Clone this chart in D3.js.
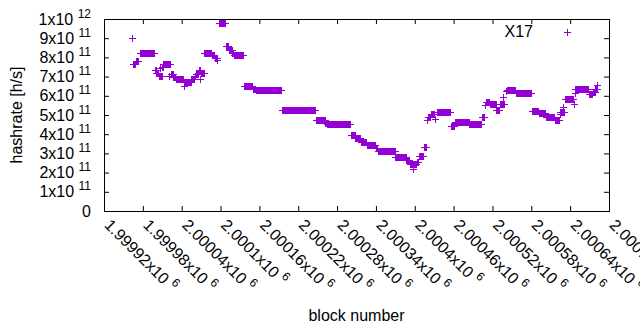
<!DOCTYPE html>
<html>
<head>
<meta charset="utf-8">
<script src="https://cdn.jsdelivr.net/npm/d3@7"></script>
<style>
  body { margin: 0; background: #fff; }
  text { font-family: "Liberation Sans", Arial, sans-serif; fill: #000; }
</style>
</head>
<body>
<div id="chart"></div>
<script>
// hashrate estimates, read off the plot as runs of blocks sharing one value
// (value in units of 1e11 h/s)
var runStart = [1999964, 1999965, 1999969, 1999975, 1999998, 2000001, 2000005, 2000006, 2000009, 2000011,
                2000021, 2000023, 2000027, 2000031, 2000043, 2000044, 2000055, 2000061, 2000062, 2000066,
                2000068, 2000070, 2000075, 2000087, 2000091, 2000095, 2000097, 2000108, 2000113, 2000118,
                2000121, 2000136, 2000150, 2000154, 2000195, 2000247, 2000262, 2000265, 2000301, 2000308,
                2000317, 2000326, 2000340, 2000343, 2000370, 2000387, 2000392, 2000397, 2000403, 2000406,
                2000414, 2000419, 2000420, 2000425, 2000431, 2000434, 2000456, 2000462, 2000484, 2000504,
                2000508, 2000510, 2000516, 2000526, 2000527, 2000531, 2000537, 2000541, 2000542, 2000556,
                2000581, 2000592, 2000602, 2000616, 2000624, 2000625, 2000629, 2000632, 2000646, 2000647,
                2000648, 2000669, 2000675, 2000679, 2000682];
var runEnd   = [1999964, 1999968, 1999972, 1999997, 2000000, 2000004, 2000009, 2000006, 2000011, 2000022,
                2000021, 2000026, 2000030, 2000042, 2000043, 2000054, 2000059, 2000061, 2000065, 2000069,
                2000068, 2000074, 2000086, 2000090, 2000094, 2000095, 2000107, 2000112, 2000117, 2000120,
                2000135, 2000149, 2000153, 2000194, 2000246, 2000261, 2000264, 2000300, 2000307, 2000316,
                2000325, 2000339, 2000342, 2000369, 2000386, 2000391, 2000402, 2000397, 2000405, 2000413,
                2000418, 2000419, 2000424, 2000430, 2000431, 2000455, 2000461, 2000483, 2000503, 2000507,
                2000508, 2000515, 2000525, 2000526, 2000530, 2000538, 2000537, 2000541, 2000555, 2000580,
                2000591, 2000601, 2000615, 2000623, 2000624, 2000630, 2000629, 2000645, 2000646, 2000668,
                2000648, 2000674, 2000678, 2000681, 2000682];
var hashrate = [9.0, 7.65, 7.82, 8.21, 7.35, 7.18, 7.05, 7.43, 7.5, 7.64,
                7.03, 7.12, 6.97, 6.86, 6.52, 6.72, 6.9, 7.05, 7.15, 7.35,
                6.88, 7.2, 8.25, 8.12, 7.98, 7.88, 9.8, 8.58, 8.38, 8.22,
                8.1, 6.49, 6.38, 6.29, 5.24, 4.72, 4.6, 4.51, 3.98, 3.79,
                3.58, 3.44, 3.3, 3.12, 2.81, 2.65, 2.46, 2.2, 2.55, 2.89,
                3.33, 4.76, 4.9, 5.05, 4.8, 5.14, 4.45, 4.62, 4.51, 4.91,
                5.52, 5.68, 5.57, 5.24, 5.25, 5.55, 5.95, 6.27, 6.29, 6.14,
                5.2, 5.13, 4.87, 4.73, 5.05, 5.15, 5.42, 5.81, 5.57, 6.38,
                6.13, 6.08, 6.22, 6.38, 6.55];

var xTickValues = [1999920, 1999980, 2000040, 2000100, 2000160, 2000220, 2000280,
                   2000340, 2000400, 2000460, 2000520, 2000580, 2000640, 2000700];
var yTickValues = [0, 1e11, 2e11, 3e11, 4e11, 5e11, 6e11, 7e11, 8e11, 9e11, 1e12];
var seriesName = "X17";

var width = 640, height = 330;
var plot = {left: 104, right: 609, top: 19, bottom: 211};
var color = "#9400d3";

var svg = d3.select("#chart")
  .append("svg")
    .attr("width", width)
    .attr("height", height);

var x = d3.scaleLinear()
    .domain([xTickValues[0], xTickValues[xTickValues.length - 1]])
    .range([plot.left, plot.right]);
var y = d3.scaleLinear()
    .domain([yTickValues[0], yTickValues[yTickValues.length - 1]])
    .range([plot.bottom, plot.top]);

// one point per block inside each run
var points = [];
runStart.forEach(function(s, i) {
  d3.range(s, runEnd[i] + 1).forEach(function(b) {
    points.push({block: b, rate: hashrate[i] * 1e11});
  });
});

// inward ticks on all four sides (gnuplot mirror style)
function noDomain(g) { g.select(".domain").remove(); g.selectAll("text").remove(); }
svg.append("g").attr("transform", "translate(0," + plot.bottom + ")")
  .call(d3.axisBottom(x).tickValues(xTickValues).tickSize(-5)).call(noDomain);
svg.append("g").attr("transform", "translate(0," + plot.top + ")")
  .call(d3.axisTop(x).tickValues(xTickValues).tickSize(-5)).call(noDomain);
svg.append("g").attr("transform", "translate(" + plot.left + ",0)")
  .call(d3.axisLeft(y).tickValues(yTickValues).tickSize(-5)).call(noDomain);
svg.append("g").attr("transform", "translate(" + plot.right + ",0)")
  .call(d3.axisRight(y).tickValues(yTickValues).tickSize(-5)).call(noDomain);
svg.selectAll(".tick line").attr("stroke", "#000");

// border
svg.append("rect")
    .attr("x", plot.left + 0.5)
    .attr("y", plot.top + 0.5)
    .attr("width", plot.right - plot.left)
    .attr("height", plot.bottom - plot.top)
    .attr("fill", "none")
    .attr("stroke", "#000");

// y tick labels, "9x10 11" style
var yLab = svg.append("g").attr("font-size", 16);
yTickValues.forEach(function(d) {
  var t = yLab.append("text")
      .attr("x", 91)
      .attr("y", y(d) + 5.5)
      .attr("text-anchor", "end");
  if (d === 0) { t.text("0"); return; }
  var e = Math.floor(Math.log10(d) + 1e-9);
  t.append("tspan").text(Math.round(d / Math.pow(10, e)) + "x10");
  t.append("tspan").attr("dx", 4.4).attr("dy", -7).attr("font-size", 12).text(e);
});

// x tick labels, rotated
var fmt = d3.format(".5~f");
var xLab = svg.append("g").attr("font-size", 16);
xTickValues.forEach(function(d) {
  var t = xLab.append("text")
      .attr("transform", "translate(" + (x(d) - 0.5) + ",226) rotate(45)");
  t.append("tspan").text(fmt(d / 1e6) + "x10");
  t.append("tspan").attr("dx", 4.4).attr("dy", -7).attr("font-size", 12).text("6");
});

// axis titles
svg.append("text")
    .attr("transform", "translate(22," + (plot.top + plot.bottom) / 2 + ") rotate(-90)")
    .attr("text-anchor", "middle")
    .attr("font-size", 16)
    .text("hashrate [h/s]");
svg.append("text")
    .attr("x", (plot.left + plot.right) / 2)
    .attr("y", 321)
    .attr("text-anchor", "middle")
    .attr("font-size", 16)
    .text("block number");

// the points
var plus = "M-3.5,0H3.5M0,-3.5V3.5";
svg.append("g")
    .attr("fill", "none")
    .attr("stroke", color)
    .attr("stroke-width", 1)
  .selectAll("path")
  .data(points)
  .enter()
  .append("path")
    .attr("transform", function(d) {
      return "translate(" + (Math.round(x(d.block)) + 0.5) + "," + (Math.round(y(d.rate)) + 0.5) + ")";
    })
    .attr("d", plus);

// legend
svg.append("text")
    .attr("x", 533)
    .attr("y", 37)
    .attr("text-anchor", "end")
    .attr("font-size", 16)
    .text(seriesName);
svg.append("path")
    .attr("transform", "translate(567.5,32.5)")
    .attr("d", plus)
    .attr("fill", "none")
    .attr("stroke", color);
</script>
</body>
</html>
